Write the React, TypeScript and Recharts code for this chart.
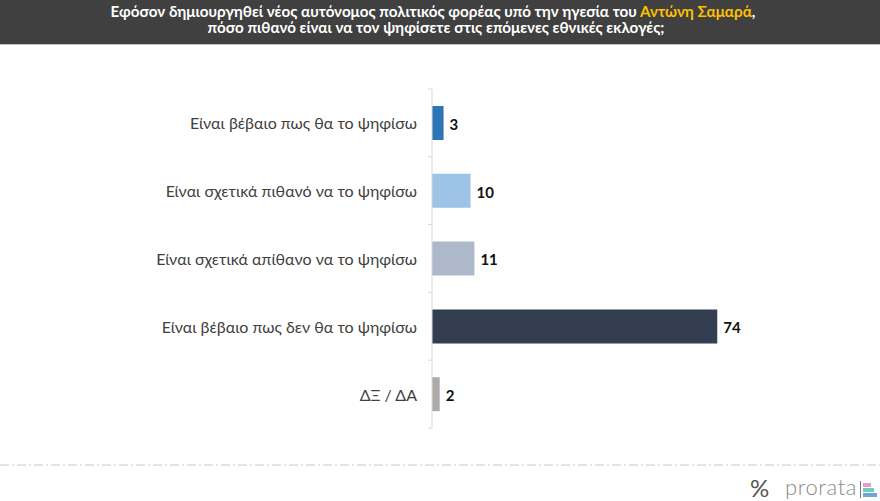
import { BarChart, Bar, XAxis, YAxis, Cell, LabelList } from 'recharts';

const categories = [
  'Είναι βέβαιο πως θα το ψηφίσω',
  'Είναι σχετικά πιθανό να το ψηφίσω',
  'Είναι σχετικά απίθανο να το ψηφίσω',
  'Είναι βέβαιο πως δεν θα το ψηφίσω',
  'ΔΞ / ΔΑ',
];
const values = [3, 10, 11, 74, 2];
const barColors = ['#2e75b6', '#9dc3e6', '#adb9ca', '#333f50', '#aeaaaa'];
const logoBars = ['#e89ad8', '#6fcfb0', '#6aa9dc'];

const data = categories.map((name, i) => ({ name, value: values[i] }));

const FONT = 'Lato, "Open Sans", sans-serif';
const BAND = 67.8;

function CategoryTick(props: any) {
  const { x, y, payload, index } = props;
  return (
    <g>
      <text x={x - 15} y={y} dy={6.5} textAnchor="end" fontSize={16} fill="#404040" fontFamily={FONT}>
        {payload.value}
      </text>
      <line x1={x - 4} x2={x} y1={y - BAND / 2} y2={y - BAND / 2} stroke="#d9d9d9" />
      {index === categories.length - 1 && (
        <line x1={x - 4} x2={x} y1={y + BAND / 2} y2={y + BAND / 2} stroke="#d9d9d9" />
      )}
    </g>
  );
}

export default function App() {
  return (
    <div style={{ position: 'absolute', left: 0, top: 0, width: 880, height: 501, background: '#fff', overflow: 'hidden', fontFamily: FONT }}>
      <div
        style={{
          position: 'absolute', left: 0, top: 0, width: 880, height: 44,
          background: '#404040', borderBottom: '1px solid #bfbfbf',
        }}
      />
      <svg width={880} height={44} style={{ position: 'absolute', left: 0, top: 0 }}>
        <text x={433} y={17} textAnchor="middle" fill="#fff" fontWeight={700} fontSize={15.2} fontFamily={FONT}>
          Εφόσον δημιουργηθεί νέος αυτόνομος πολιτικός φορέας υπό την ηγεσία του{' '}
          <tspan fill="#ffc000">Αντώνη Σαμαρά</tspan>,
        </text>
        <text x={436} y={33} textAnchor="middle" fill="#fff" fontWeight={700} fontSize={15.2} fontFamily={FONT}>
          πόσο πιθανό είναι να τον ψηφίσετε στις επόμενες εθνικές εκλογές;
        </text>
      </svg>

      <div style={{ position: 'absolute', left: 0, top: 0 }}>
        <BarChart
          width={880}
          height={501}
          data={data}
          layout="vertical"
          margin={{ top: 89, right: 62.5, bottom: 73, left: 0 }}
          barSize={34}
        >
          <XAxis type="number" domain={[0, 100]} height={0} tick={false} axisLine={false} tickLine={false} />
          <YAxis
            type="category"
            dataKey="name"
            width={432}
            axisLine={{ stroke: '#d9d9d9' }}
            tickLine={false}
            tickSize={0}
            tickMargin={0}
            interval={0}
            tick={<CategoryTick />}
          />
          <Bar dataKey="value" isAnimationActive={false}>
            {data.map((d, i) => (
              <Cell key={d.name} fill={barColors[i]} />
            ))}
            <LabelList dataKey="value" position="right" offset={6} dy={1.5} fill="#111" fontSize={15} fontWeight={700} fontFamily={FONT} />
          </Bar>
        </BarChart>
      </div>

      <svg width={880} height={4} style={{ position: 'absolute', left: 0, top: 463 }}>
        <line x1={0} x2={880} y1={2} y2={2} stroke="#c8c8c8" strokeDasharray="9 3 2 3" />
      </svg>

      <svg width={880} height={31} style={{ position: 'absolute', left: 0, top: 470 }}>
        <text x={750} y={27} fontSize={24} fill="#555" fontFamily={FONT}>%</text>
        <text x={785} y={25} fontSize={22} fontWeight={300} fill="#8a8a8a" letterSpacing={0.6} fontFamily={FONT}>prorata</text>
      </svg>
      <div style={{ position: 'absolute', left: 860, top: 481, width: 1, height: 17, background: '#777' }} />
      {logoBars.map((c, i) => (
        <div key={c} style={{ position: 'absolute', left: 863, top: 483 + i * 5, width: i === 0 ? 8 : i === 1 ? 11 : 14, height: 4, background: c }} />
      ))}
    </div>
  );
}
